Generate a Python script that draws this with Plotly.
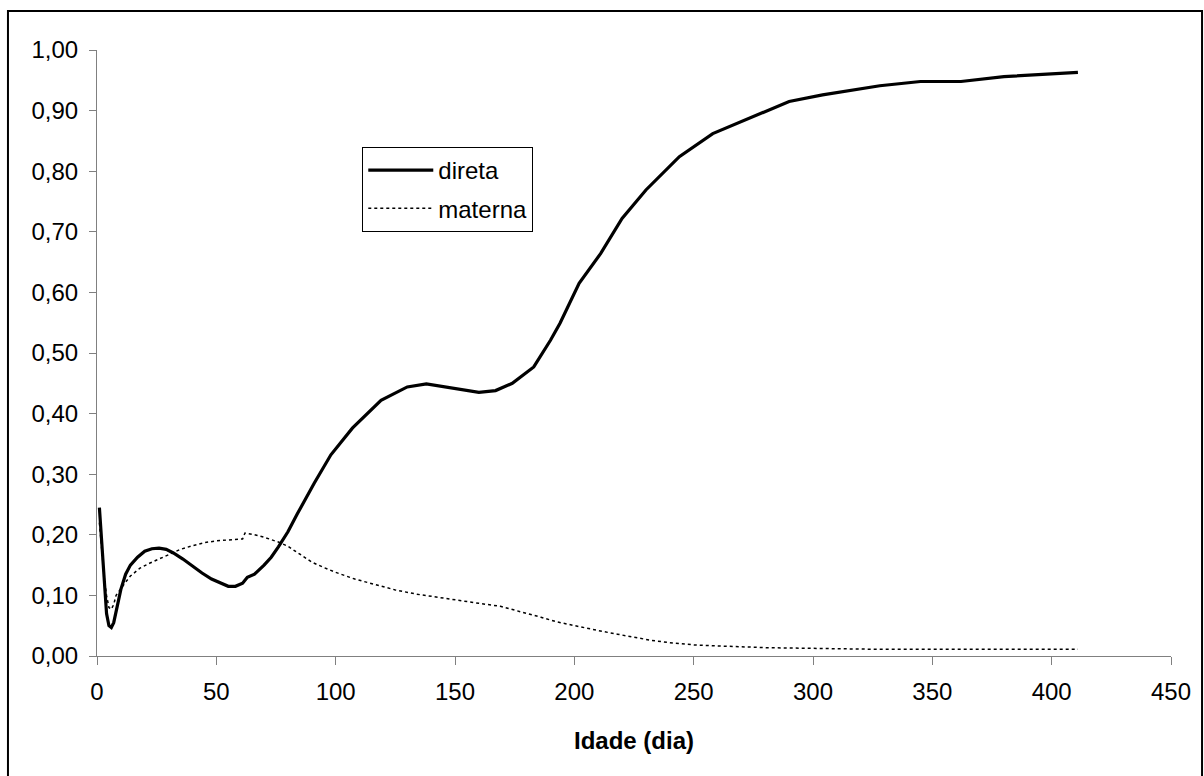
import plotly.graph_objects as go

# ---- data ----
direta_x = [1, 2, 3, 4, 5, 6, 7, 8, 9, 10, 12, 14, 17, 20, 23, 26, 29, 32, 36, 40, 44, 48,
            52, 55, 58, 61, 63, 66, 70, 73, 76, 80, 84, 91, 98, 107, 119, 130, 138, 149,
            160, 167, 174, 183, 190, 194, 202, 211, 220, 230, 244, 258, 275, 290, 304,
            328, 345, 362, 380, 411]
direta_y = [0.245, 0.19, 0.12, 0.07, 0.05, 0.047, 0.055, 0.075, 0.095, 0.11, 0.135, 0.15,
            0.163, 0.173, 0.177, 0.178, 0.176, 0.17, 0.16, 0.148, 0.137, 0.127, 0.12, 0.115,
            0.115, 0.12, 0.13, 0.135, 0.15, 0.163, 0.18, 0.205, 0.235, 0.285, 0.332, 0.376,
            0.422, 0.444, 0.449, 0.442, 0.435, 0.438, 0.45, 0.477, 0.521, 0.549, 0.615,
            0.664, 0.722, 0.769, 0.824, 0.862, 0.89, 0.915, 0.926, 0.941, 0.948, 0.948,
            0.956, 0.963]

materna_x = [1, 2, 3, 4, 5, 6, 7, 8, 10, 12, 14, 18, 22, 26, 30, 35, 40, 45, 50, 55, 60,
             61, 62, 66, 70, 76, 80, 85, 90, 95, 100, 108, 117, 125, 134, 142, 150, 160,
             169, 178, 186, 193, 200, 210, 218, 226, 232, 240, 251, 261, 270, 281, 300,
             315, 328, 411]
materna_y = [0.22, 0.17, 0.13, 0.10, 0.08, 0.077, 0.085, 0.10, 0.112, 0.122, 0.132, 0.145,
             0.153, 0.16, 0.168, 0.176, 0.182, 0.187, 0.19, 0.192, 0.193, 0.193, 0.203,
             0.20, 0.196, 0.188, 0.181, 0.168, 0.155, 0.146, 0.138, 0.127, 0.117, 0.109,
             0.102, 0.097, 0.092, 0.087, 0.082, 0.073, 0.064, 0.056, 0.05, 0.042, 0.036,
             0.03, 0.026, 0.022, 0.018, 0.0165, 0.015, 0.0137, 0.0126, 0.012, 0.011, 0.011]

x_ticks = [0, 50, 100, 150, 200, 250, 300, 350, 400, 450]
y_ticks = [0.0, 0.1, 0.2, 0.3, 0.4, 0.5, 0.6, 0.7, 0.8, 0.9, 1.0]

FONT = "Arial, 'Liberation Sans', sans-serif"

fig = go.Figure()
fig.add_trace(go.Scatter(x=direta_x, y=direta_y, mode="lines", name="direta",
                         legendgroup="a",
                         line=dict(color="black", width=3.2)))
fig.add_trace(go.Scatter(x=materna_x, y=materna_y, mode="lines", name="materna",
                         legendgroup="b",
                         line=dict(color="black", width=1.5, dash="3px,3px")))

fig.update_layout(
    width=1204, height=776,
    margin=dict(l=97, r=33, t=50, b=120),
    paper_bgcolor="white", plot_bgcolor="white",
    separators=",.",
    font=dict(family=FONT, size=24, color="black"),
    showlegend=True,
    legend=dict(x=0.247, y=0.84, xanchor="left", yanchor="top",
                bordercolor="black", borderwidth=1, bgcolor="white",
                font=dict(size=24), tracegroupgap=4, itemwidth=65),
    xaxis=dict(range=[0, 450], tickvals=x_ticks, showgrid=False, zeroline=False,
               showline=True, linecolor="#808080", linewidth=1,
               ticks="outside", ticklen=8, tickcolor="#808080", ticklabelstandoff=6,
               title=dict(text="<b>Idade (dia)</b>", font=dict(size=24), standoff=28)),
    yaxis=dict(range=[0, 1.0], tickvals=y_ticks, tickformat=".2f", showgrid=False,
               zeroline=False, showline=True, linecolor="#808080", linewidth=1,
               ticks="outside", ticklen=7, tickcolor="#808080", ticklabelstandoff=6),
    shapes=[dict(type="rect", xref="paper", yref="paper",
                 x0=-0.0829, x1=1.0289, y0=-0.25, y1=1.0644,
                 line=dict(color="black", width=2), fillcolor="rgba(0,0,0,0)",
                 layer="below")],
)

fig.write_html("out.html")
